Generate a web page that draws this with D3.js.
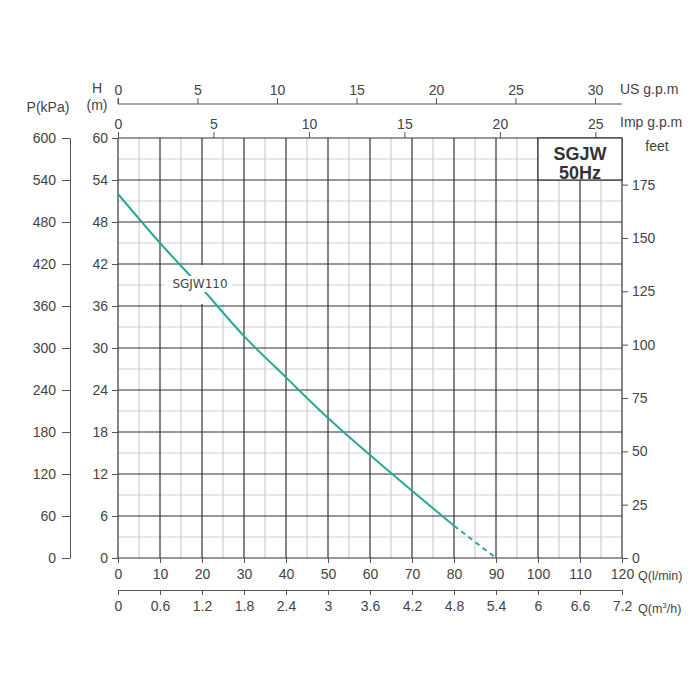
<!DOCTYPE html>
<html><head><meta charset="utf-8">
<script src="https://cdn.jsdelivr.net/npm/d3@7"></script>
<style>body{margin:0;background:#fff}svg{display:block}</style>
</head><body>
<svg id="c" width="700" height="700"></svg>
<script>
// Data
const flowLmin = [0, 10, 20, 30, 40, 50, 60, 70, 80, 90];
const headM    = [52, 45, 38.5, 31.7, 25.8, 20, 14.7, 9.6, 4.6, 0];
const solidUntil = 80; // dashed beyond this flow
const qLminTicks = [0,10,20,30,40,50,60,70,80,90,100,110,120];
const qM3hTicks  = [0,0.6,1.2,1.8,2.4,3,3.6,4.2,4.8,5.4,6,6.6,7.2];
const hTicks     = [0,6,12,18,24,30,36,42,48,54,60];
const pTicks     = [0,60,120,180,240,300,360,420,480,540,600];
const feetTicks  = [0,25,50,75,100,125,150,175];
const usTicks    = [0,5,10,15,20,25,30];
const impTicks   = [0,5,10,15,20,25];
const seriesName = "SGJW110";
const titleLines = ["SGJW","50Hz"];

const svg = d3.select("#c");
const L = 118, R = 622, T = 138, B = 558;
const x = d3.scaleLinear().domain([0,120]).range([L,R]);
const y = d3.scaleLinear().domain([0,60]).range([B,T]);
const xM3 = d3.scaleLinear().domain([0,7.2]).range([L,R]);
const yP = d3.scaleLinear().domain([0,600]).range([B,T]);
const yFt = d3.scaleLinear().domain([0,60*3.28084]).range([B,T]);
const xUS = d3.scaleLinear().domain([0,120/3.78541]).range([L,R]);
const xImp = d3.scaleLinear().domain([0,120/4.54609]).range([L,R]);

const font = "'Liberation Sans', Arial, sans-serif";
const tc = "#444";
svg.style("font-family", font);

// grid minor
const g = svg.append("g");
d3.range(5,120,10).forEach(v=>g.append("line").attr("x1",x(v)).attr("x2",x(v)).attr("y1",T).attr("y2",B).attr("stroke","#cfcfcf").attr("stroke-width",1.2));
d3.range(3,60,6).forEach(v=>g.append("line").attr("x1",L).attr("x2",R).attr("y1",y(v)).attr("y2",y(v)).attr("stroke","#cfcfcf").attr("stroke-width",1.2));
// grid major
d3.range(0,121,10).forEach(v=>g.append("line").attr("x1",x(v)).attr("x2",x(v)).attr("y1",T).attr("y2",B).attr("stroke","#333").attr("stroke-width",1.2));
d3.range(0,61,6).forEach(v=>g.append("line").attr("x1",L).attr("x2",R).attr("y1",y(v)).attr("y2",y(v)).attr("stroke","#333").attr("stroke-width",1.2));

function styleAxis(sel){
  sel.selectAll("text").attr("fill",tc).style("font-size","14px").style("font-family",font);
  sel.selectAll("line").attr("stroke","#555");
  sel.select(".domain").attr("stroke","#555");
}

// Left H axis
svg.append("g").attr("transform",`translate(${L},0)`)
  .call(d3.axisLeft(y).tickValues(hTicks).tickSize(6).tickPadding(4).tickSizeOuter(0))
  .call(styleAxis).call(s=>s.select(".domain").remove());
// P axis
svg.append("g").attr("transform",`translate(70,0)`)
  .call(d3.axisLeft(yP).tickValues(pTicks).tickSize(8).tickPadding(6).tickSizeOuter(0))
  .call(styleAxis);
// Right feet axis
svg.append("g").attr("transform",`translate(${R},0)`)
  .call(d3.axisRight(yFt).tickValues(feetTicks).tickSize(6).tickPadding(4).tickSizeOuter(0))
  .call(styleAxis).call(s=>s.select(".domain").remove());
// Bottom l/min
svg.append("g").attr("transform",`translate(0,${B})`)
  .call(d3.axisBottom(x).tickValues(qLminTicks).tickSize(5).tickPadding(6).tickSizeOuter(0))
  .call(styleAxis).call(s=>s.select(".domain").remove());
// Bottom m3/h
svg.append("g").attr("transform",`translate(0,590)`)
  .call(d3.axisBottom(xM3).tickValues(qM3hTicks).tickSize(5).tickPadding(6).tickSizeOuter(0).tickFormat(d3.format("~g")))
  .call(styleAxis);
// Top Imp
svg.append("g").attr("transform",`translate(0,${T})`)
  .call(d3.axisTop(xImp).tickValues(impTicks).tickSize(6).tickPadding(3).tickSizeOuter(0))
  .call(styleAxis).call(s=>s.select(".domain").remove());
// Top US
const usAx = svg.append("g").attr("transform",`translate(0,104)`)
  .call(d3.axisTop(xUS).tickValues(usTicks).tickSize(6).tickPadding(3).tickSizeOuter(0))
  .call(styleAxis);
usAx.select(".domain").attr("d",`M${L},-6V0H${R}`);

// axis titles
function lab(t,xx,yy,anchor,size){ return svg.append("text").attr("x",xx).attr("y",yy).attr("text-anchor",anchor||"middle").attr("fill",tc).style("font-size",(size||14)+"px").text(t); }
lab("P(kPa)",48,112);
lab("H",97,93);
lab("(m)",97,110);
lab("US g.p.m",620,94,"start");
lab("Imp g.p.m",620,127,"start");
lab("feet",657,151);
lab("Q(l/min)",638,580,"start",12.5);
const qm = svg.append("text").attr("x",638).attr("y",613).attr("fill",tc).style("font-size","12.5px");
qm.append("tspan").text("Q(m");
qm.append("tspan").attr("dy",-5).style("font-size","8px").text("3");
qm.append("tspan").attr("dy",5).text("/h)");

// Title box
svg.append("rect").attr("x",538).attr("y",T).attr("width",R-538).attr("height",42).attr("fill","#fff").attr("stroke","#333").attr("stroke-width",1.2);
titleLines.forEach((t,i)=>svg.append("text").attr("x",580).attr("y",160+i*19).attr("text-anchor","middle").attr("fill","#333").style("font-size","18px").style("font-weight","bold").text(t));

// label background (grid gap)
svg.append("rect").attr("x",165).attr("y",265).attr("width",67).attr("height",39).attr("fill","#fff");

// curve
const pts = flowLmin.map((q,i)=>[q,headM[i]]);
const line = d3.line().x(d=>x(d[0])).y(d=>y(d[1])).curve(d3.curveMonotoneX);
svg.append("path").datum(pts.filter(d=>d[0]<=solidUntil)).attr("d",line).attr("fill","none").attr("stroke","#2aa79b").attr("stroke-width",2);
svg.append("path").datum(pts.filter(d=>d[0]>=solidUntil)).attr("d",line).attr("fill","none").attr("stroke","#2aa79b").attr("stroke-width",2).attr("stroke-dasharray","5,4");

// label with white halo over curve
svg.append("rect").attr("x",172).attr("y",276).attr("width",56).attr("height",16).attr("fill","#fff");
svg.append("text").attr("x",200).attr("y",288).attr("text-anchor","middle").attr("fill","#444").style("font-size","12px").style("font-family","'DejaVu Sans', sans-serif").text(seriesName);
</script>
</body></html>
